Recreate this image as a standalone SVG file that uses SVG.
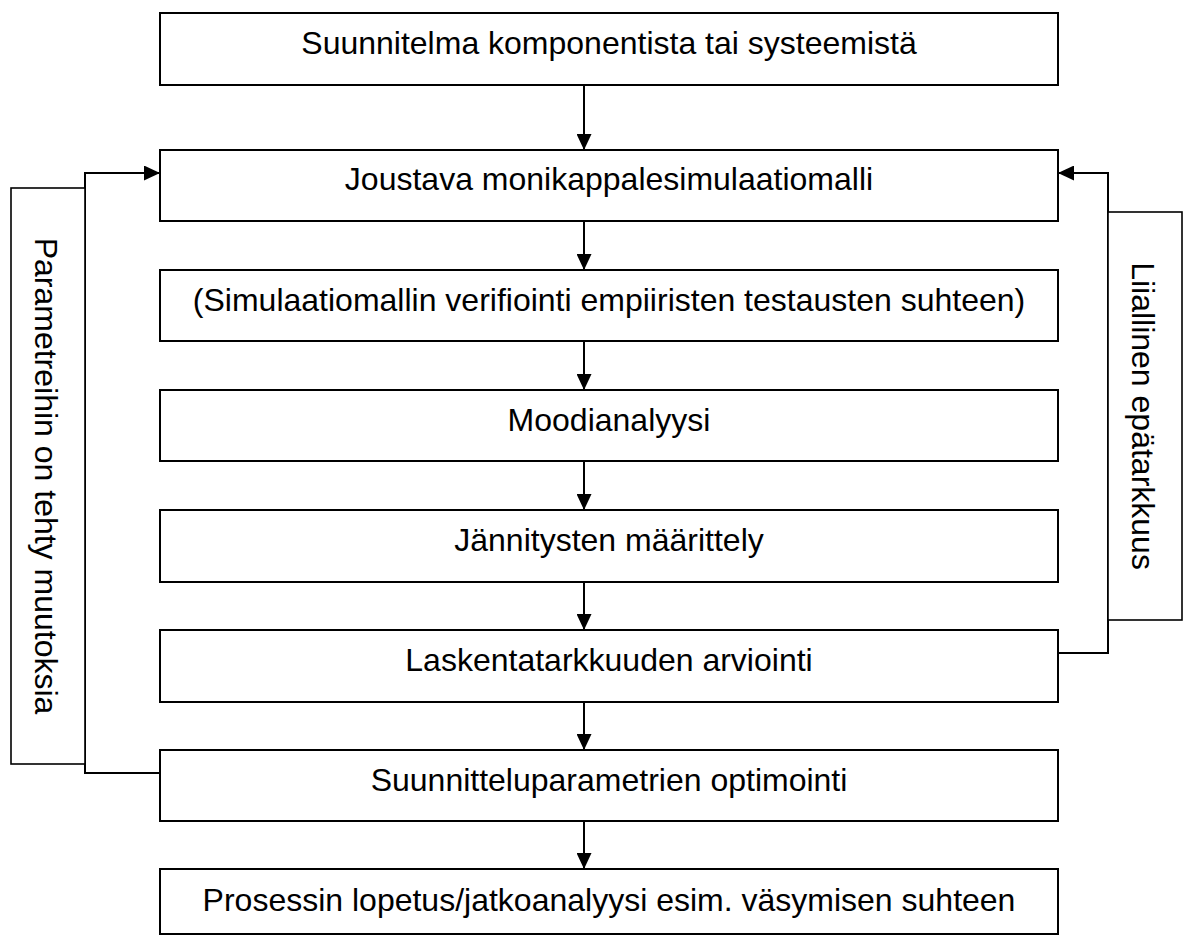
<svg xmlns="http://www.w3.org/2000/svg" width="1184" height="936" viewBox="0 0 1184 936">
<style>
.box{fill:#fff;stroke:#000;stroke-width:2}
.lbl{fill:#fff;stroke:#000;stroke-width:1.6}
.t{font-family:"Liberation Sans",Arial,sans-serif;font-size:32px;fill:#000;text-anchor:middle}
.c{fill:none;stroke:#000;stroke-width:2}
</style>
<defs>
<marker id="ah" viewBox="0 0 16 15" refX="16" refY="7.5" markerWidth="16" markerHeight="15" markerUnits="userSpaceOnUse" orient="auto">
<path d="M0,0 L16,7.5 L0,15 Z" fill="#000"/>
</marker>
</defs>
<rect width="1184" height="936" fill="#fff"/>
<g id="connectors">
<line class="c" x1="584" y1="85" x2="584" y2="150" marker-end="url(#ah)"/>
<line class="c" x1="584" y1="221" x2="584" y2="270" marker-end="url(#ah)"/>
<line class="c" x1="584" y1="341" x2="584" y2="390" marker-end="url(#ah)"/>
<line class="c" x1="584" y1="461" x2="584" y2="510" marker-end="url(#ah)"/>
<line class="c" x1="584" y1="582" x2="584" y2="630" marker-end="url(#ah)"/>
<line class="c" x1="584" y1="702" x2="584" y2="750" marker-end="url(#ah)"/>
<line class="c" x1="584" y1="821" x2="584" y2="869" marker-end="url(#ah)"/>
<polyline class="c" points="160,773 85,773 85,173 160,173" marker-end="url(#ah)"/>
<polyline class="c" points="1058,653 1108,653 1108,173 1058,173" marker-end="url(#ah)"/>
</g>
<g id="label-left">
<rect class="lbl" x="11" y="188" width="74" height="576"/>
<text class="t" transform="translate(35,476) rotate(90)">Parametreihin on tehty muutoksia</text>
</g>
<g id="label-right">
<rect class="lbl" x="1108" y="212" width="74" height="408"/>
<text class="t" transform="translate(1132,416) rotate(90)">Liiallinen epätarkkuus</text>
</g>
<g id="n1"><rect class="box" x="160" y="13" width="898" height="72"/><text class="t" x="609" y="54">Suunnitelma komponentista tai systeemistä</text></g>
<g id="n2"><rect class="box" x="160" y="150" width="898" height="71"/><text class="t" x="609" y="190">Joustava monikappalesimulaatiomalli</text></g>
<g id="n3"><rect class="box" x="160" y="270" width="898" height="71"/><text class="t" x="609" y="311">(Simulaatiomallin verifiointi empiiristen testausten suhteen)</text></g>
<g id="n4"><rect class="box" x="160" y="390" width="898" height="71"/><text class="t" x="609" y="431">Moodianalyysi</text></g>
<g id="n5"><rect class="box" x="160" y="510" width="898" height="72"/><text class="t" x="609" y="551">Jännitysten määrittely</text></g>
<g id="n6"><rect class="box" x="160" y="630" width="898" height="72"/><text class="t" x="609" y="671">Laskentatarkkuuden arviointi</text></g>
<g id="n7"><rect class="box" x="160" y="750" width="898" height="71"/><text class="t" x="609" y="791">Suunnitteluparametrien optimointi</text></g>
<g id="n8"><rect class="box" x="160" y="869" width="898" height="65"/><text class="t" x="609" y="911">Prosessin lopetus/jatkoanalyysi esim. väsymisen suhteen</text></g>
</svg>
